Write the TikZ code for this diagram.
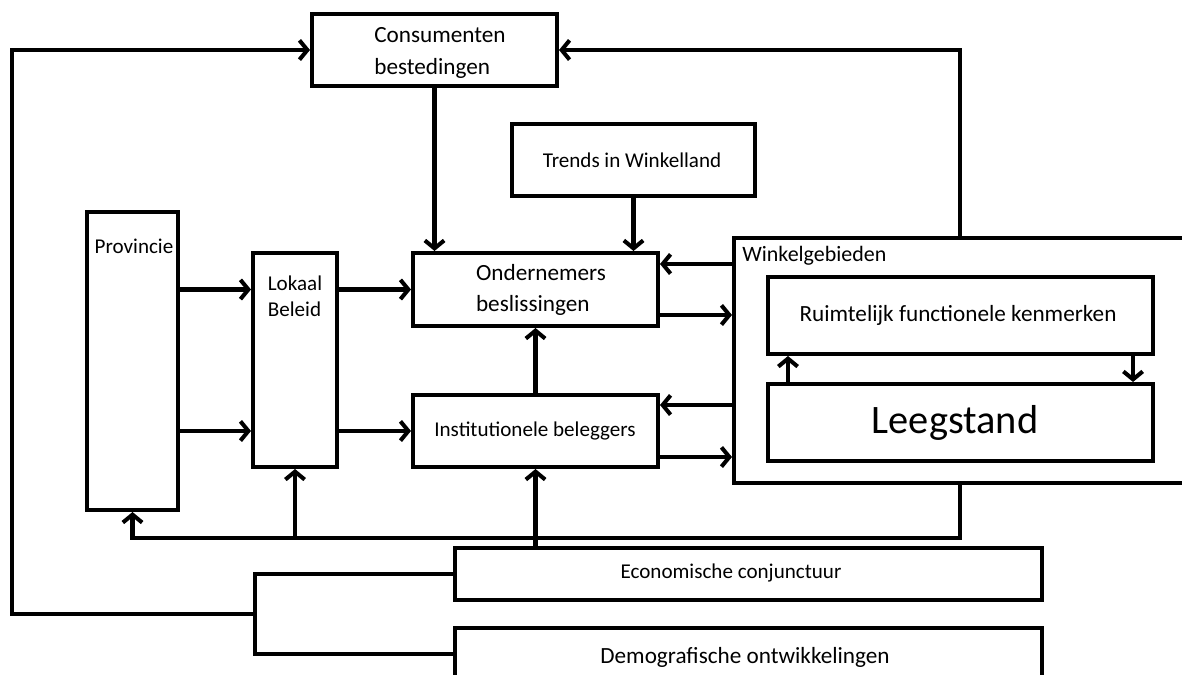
\documentclass[tikz,border=0pt]{standalone}
\usepackage{fontspec}
\setmainfont{Carlito}
\usetikzlibrary{arrows.meta,calc}
\tikzset{
  line/.style={line width=2.3pt, draw=black},
  arr/.style={line, -{Straight Barb[length=4.5pt,width=11pt]}},
  boxs/.style={line, rectangle, inner sep=0pt, fill=white},
  lbl/.style={inner sep=0pt, font=\fontsize{12}{14}\selectfont},
  lblL/.style={inner sep=0pt, font=\fontsize{13.2}{17.8}\selectfont, align=left},
}
\newcommand\bx[5]{\node[boxs, minimum width={(#4-#2)*0.02cm}, minimum height={(#5-#3)*0.02cm}] (#1) at ({(#2+#4)/2},{(#3+#5)/2}) {};}
\begin{document}
\begin{tikzpicture}[x=0.02cm,y=-0.02cm]
\useasboundingbox (0,0) rectangle (1182,675);
\clip (0,0) rectangle (1182,675);
% boxes
\bx{cons}{312}{14}{557}{86}
\bx{tr}{512}{124}{755}{196}
\bx{prov}{87}{212}{178}{510}
\bx{lok}{253}{253}{337}{467}
\bx{ond}{413}{253}{658}{326}
\bx{inst}{413}{395}{658}{467}
\bx{wk}{734}{238}{1186}{483}
\bx{ruim}{768}{277}{1153}{354}
\bx{leeg}{768}{384}{1153}{461}
\bx{eco}{455}{548}{1042}{600}
\bx{demo}{455}{628}{1042}{680}
% labels
\node[lblL] (consl) at (440,53) {Consumenten\\bestedingen};
\node[lbl] (trl) at (632,160) {Trends in Winkelland};
\node[lbl] (provl) at (134,246) {Provincie};
\node[lbl, align=left, font=\fontsize{12}{15}\selectfont] (lokl) at (295,296) {Lokaal\\Beleid};
\node[lblL] (ondl) at (541,290) {Ondernemers\\beslissingen};
\node[lbl] (instl) at (535,431) {Institutionele beleggers};
\node[lbl, anchor=west, font=\fontsize{12.5}{15}\selectfont] (wkl) at (742,256) {Winkelgebieden};
\node[lblL] (ruiml) at (958,315) {Ruimtelijk functionele kenmerken};
\node[inner sep=0pt, font=\fontsize{23}{28}\selectfont] (leegl) at (955,423) {Leegstand};
\node[lbl] (ecol) at (731,573) {Economische conjunctuur};
\node[lblL] (demol) at (745,657) {Demografische ontwikkelingen};
% coordinates
\coordinate (bk) at (255,614);
\coordinate (lc) at (12,614);
\coordinate (fb) at (295,538);
% connectors
\draw[line] (eco.west) -| (bk) |- (demo.west);
\draw[arr] (bk) -- (lc) |- (cons.west);
\draw[arr] (wk.north) |- (cons.east);
\draw[arr] (cons.south) -- (cons.south |- ond.north);
\draw[arr] (tr.south) -- (tr.south |- ond.north);
\draw[arr] (prov.east |- ond.west) -- (lok.west |- ond.west);
\draw[arr] (prov.east |- inst.west) -- (lok.west |- inst.west);
\draw[arr] (lok.east |- ond.west) -- (ond.west);
\draw[arr] (lok.east |- inst.west) -- (inst.west);
\draw[arr] (inst.north) -- (ond.south);
\draw[arr] (wk.west |- 0,264) -- (ond.east |- 0,264);
\draw[arr] (ond.east |- 0,315) -- (wk.west |- 0,315);
\draw[arr] (wk.west |- 0,405) -- (inst.east |- 0,405);
\draw[arr] (inst.east |- 0,457) -- (wk.west |- 0,457);
\draw[arr] (wk.south) |- (fb) -| (prov.south);
\draw[arr] (fb) -- (fb |- lok.south);
\draw[arr] (eco.north -| inst.south) -- (inst.south);
\draw[arr] ($(leeg.north west)+(22,0)$) -- ($(ruim.south west)+(22,0)$);
\draw[arr] ($(ruim.south east)+(-22,0)$) -- ($(leeg.north east)+(-22,0)$);
\end{tikzpicture}
\end{document}
